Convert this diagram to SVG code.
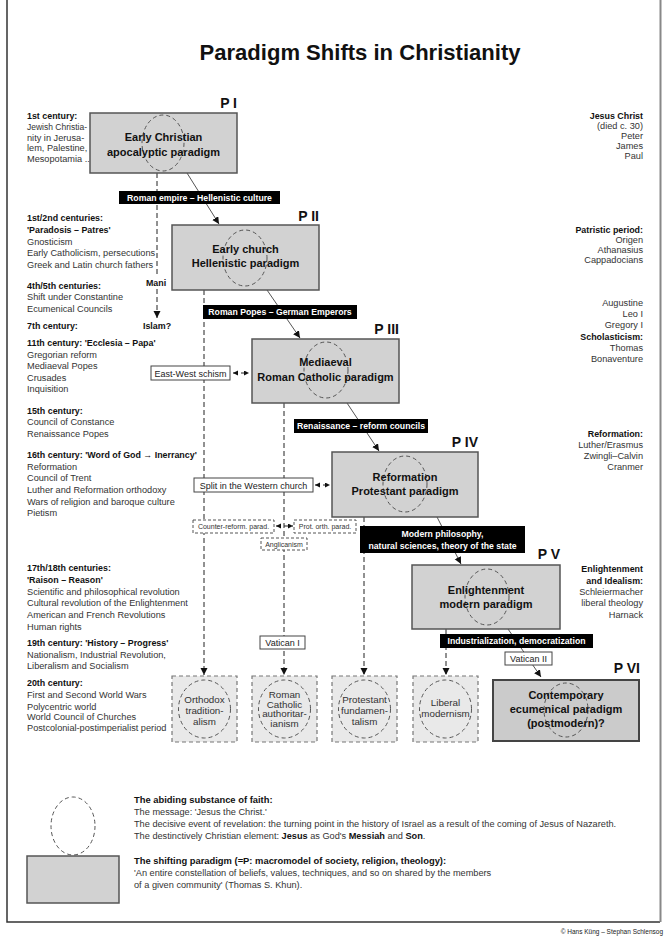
<svg xmlns="http://www.w3.org/2000/svg" width="667" height="942" viewBox="0 0 667 942">
<style>
text{font-family:"Liberation Sans",Arial,sans-serif;fill:#222}
.t{font-size:22px;font-weight:bold;fill:#111}
.l{font-size:9.2px;fill:#333}
.lb{font-size:8.9px;font-weight:bold;fill:#111}
.r{font-size:9.2px;fill:#333;text-anchor:end}
.rb{font-size:8.9px;font-weight:bold;fill:#111;text-anchor:end}
.bx{fill:#d2d2d2;stroke:#555;stroke-width:1.5}
.b6{fill:#cbcbcb;stroke:#444;stroke-width:2}
.bt{font-size:11px;font-weight:bold;text-anchor:middle;fill:#111}
.pl{font-size:14px;font-weight:bold;text-anchor:end;fill:#111}
.ci{fill:none;stroke:#555;stroke-width:1;stroke-dasharray:4 3}
.sb{fill:#e9e9e9;stroke:#777;stroke-width:1.2;stroke-dasharray:4 3}
.st{font-size:9.8px;text-anchor:middle;fill:#333}
.blk{fill:#000}
.wt{font-size:8.7px;font-weight:bold;fill:#fff;text-anchor:middle}
.wb{fill:#fff;stroke:#444;stroke-width:1}
.wbt{font-size:9px;text-anchor:middle;fill:#222}
.db{fill:#fff;stroke:#555;stroke-width:1;stroke-dasharray:3 2}
.dbt{font-size:7px;text-anchor:middle;fill:#333}
.dl{fill:none;stroke:#222;stroke-width:1;stroke-dasharray:5 3}
.sl{fill:none;stroke:#555;stroke-width:1}
.lg{font-size:9.2px;fill:#333}
.lgb{font-size:9.4px;font-weight:bold;fill:#111}
</style>
<defs>
<marker id="ah" markerUnits="userSpaceOnUse" markerWidth="8" markerHeight="8" refX="7" refY="3.5" orient="auto-start-reverse"><path d="M0,0 L7,3.5 L0,7 z" fill="#111"/></marker>
<marker id="sh" markerUnits="userSpaceOnUse" markerWidth="6" markerHeight="6" refX="5" refY="2.5" orient="auto-start-reverse"><path d="M0,0 L5,2.5 L0,5 z" fill="#111"/></marker>
</defs>
<rect width="667" height="942" fill="#fff"/>
<path d="M7,0 V922 H660" fill="none" stroke="#333" stroke-width="1.5"/>
<line x1="660.5" y1="0" x2="660.5" y2="922" stroke="#888" stroke-width="2"/>
<text class="t" x="360" y="60" text-anchor="middle" textLength="321" lengthAdjust="spacingAndGlyphs">Paradigm Shifts in Christianity</text>

<g id="left-column">
<text class="lb" x="27" y="119">1st century:</text>
<text class="l" x="27" y="130" textLength="60" lengthAdjust="spacingAndGlyphs">Jewish Christia-</text>
<text class="l" x="27" y="140.5">nity in Jerusa-</text>
<text class="l" x="27" y="151">lem, Palestine,</text>
<text class="l" x="27" y="162">Mesopotamia ...</text>
<text class="lb" x="27" y="221">1st/2nd centuries:</text>
<text class="lb" x="27" y="233">'Paradosis – Patres'</text>
<text class="l" x="27" y="245">Gnosticism</text>
<text class="l" x="27" y="256">Early Catholicism, persecutions</text>
<text class="l" x="27" y="268">Greek and Latin church fathers</text>
<text class="lb" x="27" y="289">4th/5th centuries:</text>
<text class="l" x="27" y="300">Shift under Constantine</text>
<text class="l" x="27" y="312">Ecumenical Councils</text>
<text class="lb" x="27" y="329">7th century:</text>
<text class="lb" x="27" y="346">11th century: 'Ecclesia – Papa'</text>
<text class="l" x="27" y="358">Gregorian reform</text>
<text class="l" x="27" y="369">Mediaeval Popes</text>
<text class="l" x="27" y="381">Crusades</text>
<text class="l" x="27" y="392">Inquisition</text>
<text class="lb" x="27" y="414">15th century:</text>
<text class="l" x="27" y="425">Council of Constance</text>
<text class="l" x="27" y="437">Renaissance Popes</text>
<text class="lb" x="27" y="458">16th century: 'Word of God → Inerrancy'</text>
<text class="l" x="27" y="470">Reformation</text>
<text class="l" x="27" y="481">Council of Trent</text>
<text class="l" x="27" y="493">Luther and Reformation orthodoxy</text>
<text class="l" x="27" y="505">Wars of religion and baroque culture</text>
<text class="l" x="27" y="516">Pietism</text>
<text class="lb" x="27" y="571">17th/18th centuries:</text>
<text class="lb" x="27" y="583">'Raison – Reason'</text>
<text class="l" x="27" y="595">Scientific and philosophical revolution</text>
<text class="l" x="27" y="606">Cultural revolution of the Enlightenment</text>
<text class="l" x="27" y="618">American and French Revolutions</text>
<text class="l" x="27" y="630">Human rights</text>
<text class="lb" x="27" y="646">19th century: 'History – Progress'</text>
<text class="l" x="27" y="658">Nationalism, Industrial Revolution,</text>
<text class="l" x="27" y="669">Liberalism and Socialism</text>
<text class="lb" x="27" y="686">20th century:</text>
<text class="l" x="27" y="698">First and Second World Wars</text>
<text class="l" x="27" y="710">Polycentric world</text>
<text class="l" x="27" y="720">World Council of Churches</text>
<text class="l" x="27" y="731">Postcolonial-postimperialist period</text>
</g>

<g id="right-column">
<text class="rb" x="643" y="119">Jesus Christ</text>
<text class="r" x="643" y="129">(died c. 30)</text>
<text class="r" x="643" y="139">Peter</text>
<text class="r" x="643" y="149">James</text>
<text class="r" x="643" y="159">Paul</text>
<text class="rb" x="643" y="233">Patristic period:</text>
<text class="r" x="643" y="243">Origen</text>
<text class="r" x="643" y="253">Athanasius</text>
<text class="r" x="643" y="263">Cappadocians</text>
<text class="r" x="643" y="306">Augustine</text>
<text class="r" x="643" y="317">Leo I</text>
<text class="r" x="643" y="328">Gregory I</text>
<text class="rb" x="643" y="340">Scholasticism:</text>
<text class="r" x="643" y="351">Thomas</text>
<text class="r" x="643" y="362">Bonaventure</text>
<text class="rb" x="643" y="437">Reformation:</text>
<text class="r" x="643" y="448">Luther/Erasmus</text>
<text class="r" x="643" y="459">Zwingli–Calvin</text>
<text class="r" x="643" y="470">Cranmer</text>
<text class="rb" x="643" y="572">Enlightenment</text>
<text class="rb" x="643" y="584">and Idealism:</text>
<text class="r" x="643" y="595">Schleiermacher</text>
<text class="r" x="643" y="606">liberal theology</text>
<text class="r" x="643" y="618">Harnack</text>
</g>

<g id="connectors">
<line class="dl" x1="157" y1="173" x2="157" y2="277"/>
<line class="dl" x1="157" y1="289" x2="157" y2="318" marker-end="url(#ah)"/>
<line class="dl" x1="204" y1="290" x2="204" y2="675" marker-end="url(#ah)"/>
<line class="dl" x1="284" y1="403" x2="284" y2="675" marker-end="url(#ah)"/>
<line class="dl" x1="364" y1="517" x2="364" y2="675" marker-end="url(#ah)"/>
<line class="dl" x1="446" y1="629" x2="446" y2="675" marker-end="url(#ah)"/>
<line class="sl" x1="187" y1="173" x2="219" y2="224" marker-end="url(#ah)"/>
<line class="sl" x1="267" y1="290" x2="300" y2="338" marker-end="url(#ah)"/>
<line class="sl" x1="347" y1="403" x2="379" y2="451" marker-end="url(#ah)"/>
<line class="sl" x1="437" y1="517" x2="461" y2="564" marker-end="url(#ah)"/>
<line class="sl" x1="508" y1="629" x2="541" y2="677" marker-end="url(#ah)"/>
<line class="dl" x1="233" y1="373" x2="249" y2="373" stroke-dasharray="2 2" marker-start="url(#sh)" marker-end="url(#sh)"/>
<line class="dl" x1="315" y1="485" x2="330" y2="485" stroke-dasharray="2 2" marker-start="url(#sh)" marker-end="url(#sh)"/>
<line class="dl" x1="276" y1="526" x2="293" y2="526" stroke-dasharray="2 2" marker-start="url(#sh)" marker-end="url(#sh)"/>
</g>

<g id="mani"><text class="lb" x="156" y="286" text-anchor="middle">Mani</text></g>
<g id="islam"><text class="lb" x="157" y="329" text-anchor="middle">Islam?</text></g>

<g id="label-roman-empire"><rect class="blk" x="119" y="191" width="161" height="13"/><text class="wt" x="199.5" y="200.5">Roman empire – Hellenistic culture</text></g>
<g id="label-roman-popes"><rect class="blk" x="203" y="305" width="154" height="14"/><text class="wt" x="280" y="315">Roman Popes – German Emperors</text></g>
<g id="label-renaissance"><rect class="blk" x="294" y="419" width="134" height="14"/><text class="wt" x="361" y="429">Renaissance – reform councils</text></g>
<g id="label-modern"><rect class="blk" x="360" y="526" width="165" height="27"/><text class="wt" x="442.5" y="537">Modern philosophy,</text><text class="wt" x="442.5" y="549">natural sciences, theory of the state</text></g>
<g id="label-industrial"><rect class="blk" x="440" y="634" width="153" height="14"/><text class="wt" x="516.5" y="644">Industrialization, democratization</text></g>

<g id="east-west"><rect class="wb" x="151" y="366" width="79" height="14"/><text class="wbt" x="190.5" y="376.5">East-West schism</text></g>
<g id="split"><rect class="wb" x="194" y="478" width="119" height="14"/><text class="wbt" x="253.5" y="488.5">Split in the Western church</text></g>
<g id="counter-reform"><rect class="db" x="193" y="520" width="81" height="13"/><text class="dbt" x="233.5" y="529">Counter-reform. parad.</text></g>
<g id="prot-orth"><rect class="db" x="294" y="520" width="62" height="13"/><text class="dbt" x="325" y="529">Prot. orth. parad.</text></g>
<g id="anglicanism"><rect class="db" x="261" y="538" width="46" height="12"/><text class="dbt" x="284" y="547">Anglicanism</text></g>
<g id="vatican1"><rect class="wb" x="260" y="636" width="45" height="13"/><text class="wbt" x="282.5" y="646">Vatican I</text></g>
<g id="vatican2"><rect class="wb" x="505" y="652" width="47" height="13"/><text class="wbt" x="528.5" y="662">Vatican II</text></g>

<g id="p1"><rect class="bx" x="90" y="113" width="147" height="60"/><ellipse class="ci" cx="163" cy="143" rx="21" ry="28"/><text class="bt" x="163.5" y="141">Early Christian</text><text class="bt" x="163.5" y="156">apocalyptic paradigm</text><text class="pl" x="237" y="108">P I</text></g>
<g id="p2"><rect class="bx" x="172" y="225" width="147" height="65"/><ellipse class="ci" cx="245" cy="258" rx="22" ry="28"/><text class="bt" x="245.5" y="253">Early church</text><text class="bt" x="245.5" y="267">Hellenistic paradigm</text><text class="pl" x="319" y="221">P II</text></g>
<g id="p3"><rect class="bx" x="252" y="339" width="147" height="64"/><ellipse class="ci" cx="326" cy="370" rx="22" ry="28"/><text class="bt" x="325.5" y="366">Mediaeval</text><text class="bt" x="325.5" y="381">Roman Catholic paradigm</text><text class="pl" x="399" y="334">P III</text></g>
<g id="p4"><rect class="bx" x="332" y="452" width="146" height="65"/><ellipse class="ci" cx="405" cy="484" rx="22" ry="28"/><text class="bt" x="405" y="481">Reformation</text><text class="bt" x="405" y="495">Protestant paradigm</text><text class="pl" x="478" y="447">P IV</text></g>
<g id="p5"><rect class="bx" x="412" y="565" width="148" height="64"/><ellipse class="ci" cx="487" cy="597" rx="22" ry="28"/><text class="bt" x="486" y="594">Enlightenment</text><text class="bt" x="486" y="608">modern paradigm</text><text class="pl" x="560" y="559">P V</text></g>
<g id="p6"><rect class="b6" x="493" y="680" width="146" height="61"/><ellipse class="ci" cx="566" cy="710" rx="22" ry="27"/><text class="bt" x="566" y="699">Contemporary</text><text class="bt" x="566" y="713">ecumenical paradigm</text><text class="bt" x="566" y="727">(postmodern)?</text><text class="pl" x="640" y="673">P VI</text></g>

<g id="orthodox"><rect class="sb" x="172" y="676" width="65" height="66"/><ellipse class="ci" cx="204.5" cy="709" rx="26" ry="29"/><text class="st" x="204.5" y="703">Orthodox</text><text class="st" x="204.5" y="714">tradition-</text><text class="st" x="204.5" y="725">alism</text></g>
<g id="rc-authoritarianism"><rect class="sb" x="252" y="676" width="65" height="66"/><ellipse class="ci" cx="284.5" cy="709" rx="26" ry="29"/><text class="st" x="284.5" y="698">Roman</text><text class="st" x="284.5" y="707.5">Catholic</text><text class="st" x="284.5" y="717">authoritar-</text><text class="st" x="284.5" y="726.5">ianism</text></g>
<g id="prot-fundamentalism"><rect class="sb" x="332" y="676" width="65" height="66"/><ellipse class="ci" cx="364.5" cy="709" rx="26" ry="29"/><text class="st" x="364.5" y="703">Protestant</text><text class="st" x="364.5" y="714">fundamen-</text><text class="st" x="364.5" y="725">talism</text></g>
<g id="liberal-modernism"><rect class="sb" x="413" y="676" width="65" height="66"/><ellipse class="ci" cx="445.5" cy="709" rx="26" ry="29"/><text class="st" x="445.5" y="706">Liberal</text><text class="st" x="445.5" y="717">modernism</text></g>

<g id="legend">
<ellipse class="ci" cx="73" cy="826" rx="22" ry="29"/>
<text class="lgb" x="134" y="803">The abiding substance of faith:</text>
<text class="lg" x="134" y="815">The message: 'Jesus the Christ.'</text>
<text class="lg" x="134" y="827">The decisive event of revelation: the turning point in the history of Israel as a result of the coming of Jesus of Nazareth.</text>
<text class="lg" x="134" y="839">The destinctively Christian element: <tspan font-weight="bold" fill="#111">Jesus</tspan> as God's <tspan font-weight="bold" fill="#111">Messiah</tspan> and <tspan font-weight="bold" fill="#111">Son</tspan>.</text>
<rect class="bx" x="27" y="856" width="92" height="47" stroke-width="1.2"/>
<text class="lgb" x="134" y="864">The shifting paradigm (=P: macromodel of society, religion, theology):</text>
<text class="lg" x="134" y="876">'An entire constellation of beliefs, values, techniques, and so on shared by the members</text>
<text class="lg" x="134" y="888">of a given community' (Thomas S. Khun).</text>
</g>
<text x="663" y="934" font-size="6.5" text-anchor="end" fill="#333">© Hans Küng – Stephan Schlensog</text>
</svg>
